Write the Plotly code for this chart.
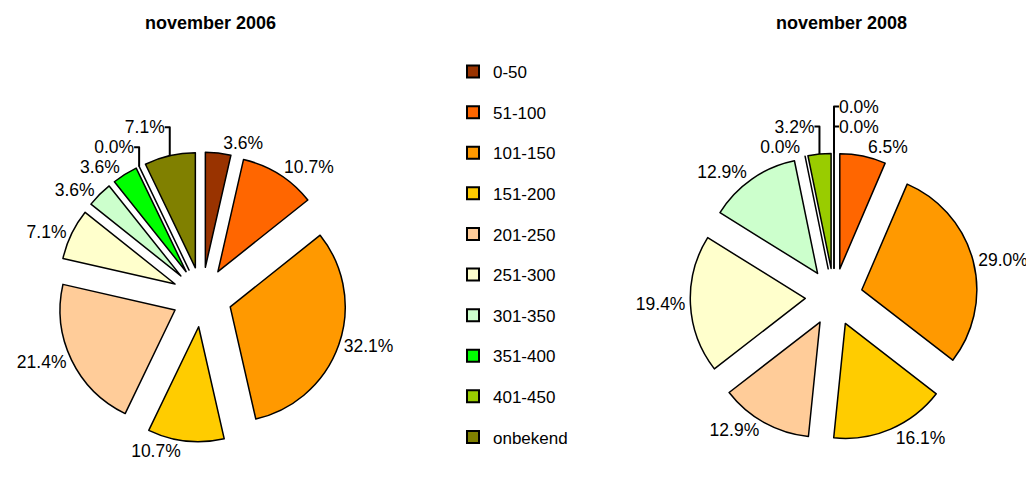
import plotly.graph_objects as go

categories = ["0-50", "51-100", "101-150", "151-200", "201-250", "251-300",
              "301-350", "351-400", "401-450", "onbekend"]
values_2006 = [1, 3, 9, 3, 6, 2, 1, 1, 0, 2]
values_2008 = [0, 2, 9, 5, 4, 6, 4, 0, 1, 0]
titles = ["november 2006", "november 2008"]
colors = ["#993300", "#FF6600", "#FF9900", "#FFCC00", "#FFCC99", "#FFFFCC",
          "#CCFFCC", "#00FF00", "#99CC00", "#808000"]

# page body has an 8px margin: figure pixel = screen pixel - 8
OFF = 8
W, H = 1034 - OFF, 478 - OFF
FONT = "Liberation Sans, Arial, sans-serif"
R = 115


def domain(cx, cy, pull):
    cx, cy = cx - OFF, cy - OFF
    half = R * (1 + pull)
    return dict(x=[(cx - half) / W, (cx + half) / W],
                y=[(H - cy - half) / H, (H - cy + half) / H])


fig = go.Figure()
for vals, (cx, cy), pull in [(values_2006, (202, 297), 0.26),
                             (values_2008, (834, 297), 0.25)]:
    fig.add_trace(go.Pie(
        labels=categories, values=vals, sort=False, direction="clockwise",
        rotation=0, pull=pull, domain=domain(cx, cy, pull),
        marker=dict(colors=colors, line=dict(color="black", width=1.5)),
        textposition="outside", texttemplate="%{percent:.1%}",
        textfont=dict(family=FONT, size=17.5, color="black"),
        showlegend=False, hoverinfo="label+percent",
    ))

for name, c in zip(categories, colors):
    fig.add_trace(go.Scatter(
        x=[None], y=[None], mode="markers", name=name, legendgroup=name,
        marker=dict(symbol="square", size=12, color=c,
                    line=dict(color="black", width=1.5)),
    ))

for t, xc in zip(titles, [210, 841]):
    fig.add_annotation(text="<b>%s</b>" % t, x=(xc - OFF) / W,
                       y=1 - (23 - OFF) / H,
                       xref="paper", yref="paper", showarrow=False,
                       xanchor="center", yanchor="middle",
                       font=dict(family=FONT, size=18, color="black"))

fig.update_layout(
    width=W, height=H, margin=dict(l=0, r=0, t=0, b=0, autoexpand=False),
    paper_bgcolor="white", plot_bgcolor="white",
    xaxis=dict(visible=False), yaxis=dict(visible=False),
    legend=dict(x=445 / W, y=1 - 46 / H, xanchor="left", yanchor="top",
                tracegroupgap=15.5, font=dict(family=FONT, size=17, color="black"),
                bgcolor="rgba(0,0,0,0)", itemsizing="constant"),
)
fig.write_html("out.html")
